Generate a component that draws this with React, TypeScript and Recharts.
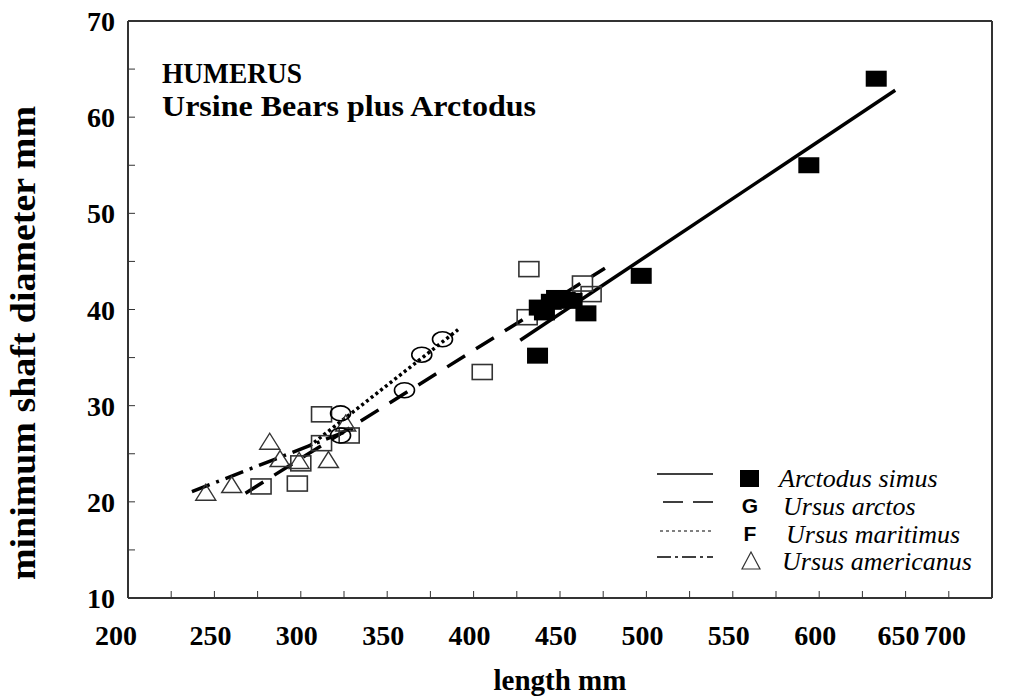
import React from 'react';
import { ComposedChart, XAxis, YAxis, Line, Scatter, ReferenceLine, Legend, Label } from 'recharts';

// ---- data ----
const xTicks = [200, 225, 250, 275, 300, 325, 350, 375, 400, 425, 450, 475, 500, 525, 550, 575, 600, 625, 650, 675, 700];
const yTicks = [10, 15, 20, 25, 30, 35, 40, 45, 50, 55, 60, 65, 70];

const arctodusSimus = [
  { x: 437, y: 35.2 }, { x: 438, y: 40.2 }, { x: 441, y: 39.7 }, { x: 445, y: 40.8 },
  { x: 448, y: 41.2 }, { x: 453, y: 41.0 }, { x: 457, y: 40.9 }, { x: 465, y: 39.6 },
  { x: 497, y: 43.5 }, { x: 594, y: 55.0 }, { x: 633, y: 64.0 },
];
const ursusArctos = [
  { x: 277, y: 21.6 }, { x: 298, y: 21.9 }, { x: 300, y: 24.0 }, { x: 312, y: 29.1 },
  { x: 312, y: 26.1 }, { x: 328, y: 26.9 }, { x: 405, y: 33.5 }, { x: 431, y: 39.2 },
  { x: 432, y: 44.2 }, { x: 463, y: 42.7 }, { x: 468, y: 41.6 },
];
const ursusMaritimus = [
  { x: 323, y: 29.2 }, { x: 323, y: 26.9 }, { x: 360, y: 31.6 }, { x: 370, y: 35.3 }, { x: 382, y: 36.9 },
];
const ursusAmericanus = [
  { x: 245, y: 21.0 }, { x: 260, y: 21.8 }, { x: 282, y: 26.3 }, { x: 288, y: 24.5 },
  { x: 299, y: 24.3 }, { x: 316, y: 24.4 }, { x: 326, y: 28.2 },
];

const fitArctodus = [{ x: 427, y: 36.8 }, { x: 644, y: 62.8 }];
const fitArctos = [{ x: 268, y: 20.9 }, { x: 476, y: 44.3 }];
const fitMaritimus = [{ x: 305, y: 25.8 }, { x: 391, y: 37.9 }];
const fitAmericanus = [{ x: 237, y: 21.06 }, { x: 333, y: 27.8 }];

const titleLines = ['HUMERUS', 'Ursine Bears plus Arctodus'];
const legendNames = ['Arctodus simus', 'Ursus arctos', 'Ursus maritimus', 'Ursus americanus'];

// ---- styles ----
const SERIF = '"Liberation Serif", "Times New Roman", Times, serif';
const SANS = '"Liberation Sans", Arial, sans-serif';
const AXIS = '#333';
const W = 1005;
const H = 690;

const XTick = (props: any) => {
  const { x, y, payload } = props;
  const v = payload.value;
  const major = v % 50 === 0;
  const dx = v === 200 ? -12 : v === 700 ? -47 : v === 650 ? -7 : -4;
  return (
    <g>
      {v !== 200 && v !== 700 && <line x1={x} x2={x} y1={y} y2={y - 7} stroke={AXIS} strokeWidth={1} />}
      {major && (
        <text
          x={x + dx}
          y={y + 47}
          textAnchor="middle"
          style={{ fontFamily: SERIF, fontWeight: 'bold', fontSize: 28 }}
          fill="#000"
        >
          {v}
        </text>
      )}
    </g>
  );
};

const YTick = (props: any) => {
  const { x, y, payload } = props;
  const v = payload.value;
  const major = v % 10 === 0;
  return (
    <g>
      {v !== 10 && v !== 70 && <line x1={x} x2={x + 7} y1={y} y2={y} stroke={AXIS} strokeWidth={1} />}
      {major && (
        <text
          x={x - 13}
          y={y + 10}
          textAnchor="end"
          style={{ fontFamily: SERIF, fontWeight: 'bold', fontSize: 28 }}
          fill="#000"
        >
          {v}
        </text>
      )}
    </g>
  );
};

const FilledSquare = (p: any) => <rect x={p.cx - 10.5} y={p.cy - 8} width={21} height={16} fill="#000" />;
const OpenSquare = (p: any) => (
  <rect x={p.cx - 10} y={p.cy - 7.5} width={20} height={15} fill="none" stroke={AXIS} strokeWidth={1.6} />
);
const OpenEllipse = (p: any) => <ellipse cx={p.cx} cy={p.cy} rx={10} ry={7.5} fill="none" stroke="#000" strokeWidth={1.6} />;
const OpenTriangle = (p: any) => (
  <polygon
    points={`${p.cx},${p.cy - 8} ${p.cx + 10},${p.cy + 8} ${p.cx - 10},${p.cy + 8}`}
    fill="none"
    stroke={AXIS}
    strokeWidth={1.4}
  />
);

// legend rows: page y of text centre, and of the line sample
const rowY = [478, 506, 534, 561];
const lineY = [474, 502, 531, 557];
const LX = 650;
const LY = 460;
const LegendBox = () => {
  const px = (v: number) => v - LX;
  const py = (v: number) => v - LY;
  const italic = { fontFamily: SERIF, fontStyle: 'italic', fontSize: 26 } as any;
  const glyph = { fontFamily: SANS, fontWeight: 'bold', fontSize: 21 } as any;
  return (
    <svg width={345} height={120} style={{ display: 'block', overflow: 'visible' }}>
      <line x1={px(657)} x2={px(713)} y1={py(lineY[0])} y2={py(lineY[0])} stroke="#000" strokeWidth={1.5} />
      <rect x={px(740)} y={py(rowY[0] - 8)} width={19} height={17} fill="#000" />
      <text x={px(779)} y={py(rowY[0] + 9)} style={italic} fill="#000">{legendNames[0]}</text>

      <line x1={px(663)} x2={px(713)} y1={py(lineY[1])} y2={py(lineY[1])} stroke="#000" strokeWidth={1.5} strokeDasharray="20 10" />
      <text x={px(750)} y={py(rowY[1] + 7)} textAnchor="middle" style={glyph} fill="#000">G</text>
      <text x={px(783)} y={py(rowY[1] + 9)} style={italic} fill="#000">{legendNames[1]}</text>

      <line x1={px(660)} x2={px(713)} y1={py(lineY[2])} y2={py(lineY[2])} stroke="#000" strokeWidth={1} strokeDasharray="3 3" />
      <text x={px(750)} y={py(rowY[2] + 7)} textAnchor="middle" style={glyph} fill="#000">F</text>
      <text x={px(786)} y={py(rowY[2] + 9)} style={italic} fill="#000">{legendNames[2]}</text>

      <line x1={px(657)} x2={px(713)} y1={py(lineY[3])} y2={py(lineY[3])} stroke="#000" strokeWidth={1.5} strokeDasharray="14 4 3 4" />
      <polygon
        points={`${px(751)},${py(rowY[3] - 9)} ${px(760)},${py(rowY[3] + 8)} ${px(742)},${py(rowY[3] + 8)}`}
        fill="none"
        stroke={AXIS}
        strokeWidth={1.2}
      />
      <text x={px(782)} y={py(rowY[3] + 9)} style={italic} fill="#000">{legendNames[3]}</text>
    </svg>
  );
};

export default function App() {
  return (
    <div style={{ position: 'relative', width: W, height: H }}>
      <ComposedChart width={W} height={H} margin={{ top: 13, right: 21, left: 60, bottom: 60 }}>
        <XAxis
          type="number"
          dataKey="x"
          domain={[200, 700]}
          ticks={xTicks}
          interval={0}
          tick={<XTick />}
          tickLine={false}
          tickSize={0}
          tickMargin={0}
          height={40}
          axisLine={{ stroke: AXIS, strokeWidth: 2 }}
          allowDataOverflow
        >
          <Label
            content={() => (
              <text
                x={560 - 8}
                y={690 - 8}
                textAnchor="middle"
                style={{ fontFamily: SERIF, fontWeight: 'bold', fontSize: 29 }}
                fill="#000"
              >
                length  mm
              </text>
            )}
          />
        </XAxis>
        <YAxis
          type="number"
          dataKey="y"
          domain={[10, 70]}
          ticks={yTicks}
          interval={0}
          tick={<YTick />}
          tickLine={false}
          tickSize={0}
          tickMargin={0}
          width={60}
          axisLine={{ stroke: AXIS, strokeWidth: 2 }}
          allowDataOverflow
        >
          <Label
            content={() => (
              <text
                transform={`translate(${35 - 8},${343 - 8}) rotate(-90)`}
                textAnchor="middle"
                textLength={474}
                lengthAdjust="spacingAndGlyphs"
                style={{ fontFamily: SERIF, fontWeight: 'bold', fontSize: 35 }}
                fill="#000"
              >
                minimum shaft diameter  mm
              </text>
            )}
          />
        </YAxis>
        <ReferenceLine y={70} stroke={AXIS} strokeWidth={2} ifOverflow="visible" />
        <ReferenceLine x={700} stroke={AXIS} strokeWidth={2} ifOverflow="visible" />

        <Scatter name={legendNames[1]} data={ursusArctos} shape={<OpenSquare />} isAnimationActive={false} />
        <Scatter name={legendNames[3]} data={ursusAmericanus} shape={<OpenTriangle />} isAnimationActive={false} />
        <Scatter name={legendNames[2]} data={ursusMaritimus} shape={<OpenEllipse />} isAnimationActive={false} />
        <Scatter name={legendNames[0]} data={arctodusSimus} shape={<FilledSquare />} isAnimationActive={false} />

        <Line data={fitArctodus} dataKey="y" stroke="#000" strokeWidth={3.5} dot={false} isAnimationActive={false} legendType="none" />
        <Line data={fitArctos} dataKey="y" stroke="#000" strokeWidth={3.5} strokeDasharray="21 13" dot={false} isAnimationActive={false} legendType="none" />
        <Line data={fitMaritimus} dataKey="y" stroke="#000" strokeWidth={3.5} strokeDasharray="3 3" dot={false} isAnimationActive={false} legendType="none" />
        <Line data={fitAmericanus} dataKey="y" stroke="#000" strokeWidth={3.5} strokeDasharray="19 7 3 7" dot={false} isAnimationActive={false} legendType="none" />

        <Legend
          layout="vertical"
          align="center"
          verticalAlign="middle"
          content={() => <LegendBox />}
          wrapperStyle={{ left: LX - 8, top: LY - 8, width: 345, height: 120 }}
        />
      </ComposedChart>
      <svg width={W} height={120} style={{ position: 'absolute', left: 0, top: 0, pointerEvents: 'none' }}>
        <text
          x={162 - 8}
          y={83 - 8}
          textLength={140}
          lengthAdjust="spacingAndGlyphs"
          style={{ fontFamily: SERIF, fontWeight: 'bold', fontSize: 30 }}
          fill="#000"
        >
          {titleLines[0]}
        </text>
        <text
          x={162 - 8}
          y={116 - 8}
          textLength={374}
          lengthAdjust="spacingAndGlyphs"
          style={{ fontFamily: SERIF, fontWeight: 'bold', fontSize: 30 }}
          fill="#000"
        >
          {titleLines[1]}
        </text>
      </svg>
    </div>
  );
}
